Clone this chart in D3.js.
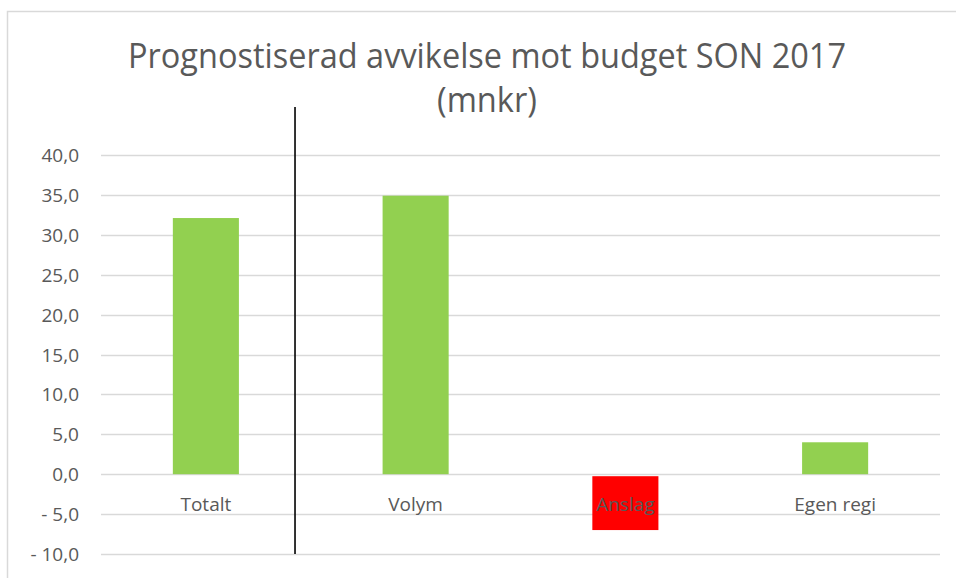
<!DOCTYPE html>
<html>
<head>
<meta charset="utf-8">
<script src="https://cdn.jsdelivr.net/npm/d3@7"></script>
<style>
  body { margin: 0; background: #fff; }
  svg { display: block; }
  text { font-family: "Open Sans", sans-serif; fill: #595959; }
</style>
</head>
<body>
<div id="chart"></div>
<script>
// data
var categories = ["Totalt", "Volym", "Anslag", "Egen regi"];
var values = [32.1, 34.9, -7.0, 4.0];
var yTicks = [-10, -5, 0, 5, 10, 15, 20, 25, 30, 35, 40];
var titleLines = ["Prognostiserad avvikelse mot budget SON 2017", "(mnkr)"];

var width = 956, height = 578;
var margin = { left: 101, right: 16, top: 155, bottom: 24 };

var svg = d3.select("#chart")
    .append("svg")
    .attr("width", width)
    .attr("height", height);

// chart frame (top + left edge only visible)
svg.append("path")
    .attr("d", "M7.5," + height + "V11.5H" + width)
    .attr("fill", "none")
    .attr("stroke", "#d9d9d9")
    .attr("stroke-width", 1.5);

var x = d3.scaleBand()
    .domain(categories)
    .range([margin.left, width - margin.right])
    .padding(0);

var y = d3.scaleLinear()
    .domain([-10, 40])
    .range([height - margin.bottom, margin.top]);

// gridlines
svg.append("g")
    .selectAll("line")
    .data(yTicks)
    .enter().append("line")
    .attr("x1", margin.left)
    .attr("x2", width - margin.right)
    .attr("y1", function(d){ return Math.round(y(d)) + 0.5; })
    .attr("y2", function(d){ return Math.round(y(d)) + 0.5; })
    .attr("stroke", "#d9d9d9")
    .attr("stroke-width", 1.3);

// y tick labels
var fmt = function(d){
    var s = Math.abs(d).toFixed(1).replace(".", ",");
    return d < 0 ? "- " + s : s;
};
svg.append("g")
    .selectAll("text")
    .data(yTicks)
    .enter().append("text")
    .attr("x", 79)
    .attr("y", function(d){ return y(d) + 7; })
    .attr("text-anchor", "end")
    .style("font-size", "19px")
    .text(fmt);

// bars
var barW = x.bandwidth() * 0.315;
svg.append("g")
    .selectAll("rect")
    .data(values)
    .enter().append("rect")
    .attr("x", function(d, i){ return x(categories[i]) + (x.bandwidth() - barW) / 2; })
    .attr("y", function(d){ return d < 0 ? y(0) + 2 : y(d); })
    .attr("width", barW)
    .attr("height", function(d){ return d < 0 ? y(d) - y(0) - 2 : y(0) - y(d); })
    .attr("fill", function(d){ return d < 0 ? "#ff0000" : "#92d050"; });

// category labels next to the zero line
svg.append("g")
    .selectAll("text")
    .data(categories)
    .enter().append("text")
    .attr("x", function(d){ return x(d) + x.bandwidth() / 2; })
    .attr("y", y(0) + 37)
    .attr("text-anchor", "middle")
    .style("font-size", "19px")
    .text(function(d){ return d; });

// separator line drawn between Totalt and Volym
var sepX = x("Totalt") + x.bandwidth() * 0.925;
svg.append("line")
    .attr("x1", sepX)
    .attr("x2", sepX)
    .attr("y1", y(46))
    .attr("y2", y(-10))
    .attr("stroke", "#000")
    .attr("stroke-width", 1.6);

// title
svg.append("text")
    .attr("x", 487)
    .attr("y", 68)
    .attr("text-anchor", "middle")
    .attr("textLength", 718)
    .attr("lengthAdjust", "spacingAndGlyphs")
    .style("font-size", "34px")
    .text(titleLines[0]);

svg.append("text")
    .attr("x", 487)
    .attr("y", 112)
    .attr("text-anchor", "middle")
    .attr("textLength", 100)
    .attr("lengthAdjust", "spacingAndGlyphs")
    .style("font-size", "34px")
    .text(titleLines[1]);
</script>
</body>
</html>
